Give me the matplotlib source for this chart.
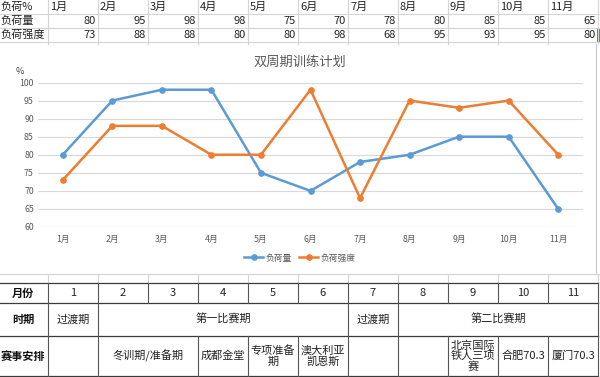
import matplotlib
matplotlib.use("Agg")
import matplotlib.pyplot as plt

plt.rcParams['font.family'] = ['Noto Sans CJK SC', 'DejaVu Sans']

months = ["1月", "2月", "3月", "4月", "5月", "6月", "7月", "8月", "9月", "10月", "11月"]
load = [80, 95, 98, 98, 75, 70, 78, 80, 85, 85, 65]
intensity = [73, 88, 88, 80, 80, 98, 68, 95, 93, 95, 80]
series_names = ["负荷量", "负荷强度"]
title = "双周期训练计划"
yticks = [60, 65, 70, 75, 80, 85, 90, 95, 100]

month_nums = ["1", "2", "3", "4", "5", "6", "7", "8", "9", "10", "11"]
row_headers = ["月份", "时期", "赛事安排"]
# (text, first column, last column) in month columns 1..11
periods = [("过渡期", 1, 1), ("第一比赛期", 2, 6), ("过渡期", 7, 7), ("第二比赛期", 8, 11)]
events = [("", 1, 1), ("冬训期/准备期", 2, 3), ("成都金堂", 4, 4), ("专项准备\n期", 5, 5),
          ("澳大利亚\n凯恩斯", 6, 6), ("", 7, 7), ("", 8, 8), ("北京国际\n铁人三项\n赛", 9, 9),
          ("合肥70.3", 10, 10), ("厦门70.3", 11, 11)]

W, H = 600, 377
fig = plt.figure(figsize=(W / 100, H / 100), dpi=100)
bg = fig.add_axes([0, 0, 1, 1])
bg.set_xlim(0, W)
bg.set_ylim(H, 0)
bg.axis('off')

grid_c = '#D4D4D4'
col_x = [0] + [48 + 50 * i for i in range(12)]  # column boundaries

def cx(c1, c2):
    return (col_x[c1] + col_x[c2 + 1]) / 2

# ---- top spreadsheet area ----
top_rows = [0, 13.5, 28, 42]
for y in top_rows[1:]:
    bg.plot([0, W], [y, y], color=grid_c, lw=0.8)
for x in col_x[1:]:
    bg.plot([x, x], [0, 44], color=grid_c, lw=0.8)
fs = 8
bg.text(0, 7, "负荷%", fontsize=fs, ha='left', va='center', color='#222')
for i, m in enumerate(months):
    bg.text(col_x[i + 1] + 2, 7, m, fontsize=fs, ha='left', va='center', color='#222')
bg.text(0, 21, series_names[0], fontsize=fs, ha='left', va='center', color='#222')
bg.text(0, 35, series_names[1], fontsize=fs, ha='left', va='center', color='#222')
for i in range(11):
    bg.text(col_x[i + 2] - 2, 21, str(load[i]), fontsize=fs, ha='right', va='center', color='#222')
    bg.text(col_x[i + 2] - 2, 35, str(intensity[i]), fontsize=fs, ha='right', va='center', color='#222')
bg.add_patch(plt.Rectangle((597, 28), 3, 14, color='#4E9A3A', lw=0))

# chart border on the right
bg.plot([596, 596], [44, 273], color='#C8C8C8', lw=0.8)

# ---- gridlines between chart and bottom table ----
for x in col_x[1:]:
    bg.plot([x, x], [274, 283], color=grid_c, lw=0.8)
bg.plot([0, W], [274, 274], color=grid_c, lw=0.8)

# ---- bottom table ----
bt = [283, 303, 336, 376]
bc = '#3a3a3a'
vc = '#555555'
for y in bt:
    bg.plot([0, 598], [y, y], color=bc, lw=0.9)
for x in col_x[1:]:
    bg.plot([x, x], [bt[0], bt[1]], color=vc, lw=0.8)
bounds = set([col_x[1], 598])
for _, a, b in periods:
    bounds.add(col_x[a]); bounds.add(col_x[b + 1])
for x in bounds:
    bg.plot([x, x], [bt[1], bt[2]], color=vc, lw=0.8)
bounds = set([col_x[1], 598])
for _, a, b in events:
    bounds.add(col_x[a]); bounds.add(col_x[b + 1])
for x in bounds:
    bg.plot([x, x], [bt[2], bt[3]], color=vc, lw=0.8)

fs2 = 8
for j, h in enumerate(row_headers):
    bg.text(23, (bt[j] + bt[j + 1]) / 2, h, fontsize=fs2, fontweight='bold',
            ha='center', va='center', color='#111')
for i, n in enumerate(month_nums):
    bg.text(cx(i + 1, i + 1), (bt[0] + bt[1]) / 2, n, fontsize=fs2,
            ha='center', va='center', color='#222')
for t, a, b in periods:
    bg.text(cx(a, b), (bt[1] + bt[2]) / 2, t, fontsize=fs2, ha='center', va='center', color='#222')
for t, a, b in events:
    bg.text(cx(a, b), (bt[2] + bt[3]) / 2, t, fontsize=fs2, ha='center', va='center',
            color='#222', linespacing=1.0)

# ---- chart ----
x0, x1 = 38, 583
ytop, ybot = 82.5, 227
ax = fig.add_axes([x0 / W, 1 - ybot / H, (x1 - x0) / W, (ybot - ytop) / H])
ax.set_facecolor('none')
xs = list(range(1, len(months) + 1))
ax.plot(xs, load, color='#5B9BD5', lw=1.8, marker='o', ms=3.8, label=series_names[0], zorder=3)
ax.plot(xs, intensity, color='#ED7D31', lw=1.8, marker='o', ms=3.8, label=series_names[1], zorder=3)
ax.set_xlim(0.5, len(months) + 0.5)
ax.set_ylim(60, 100)
ax.set_yticks(yticks)
ax.set_xticks(xs)
ax.set_xticklabels(months)
ax.grid(axis='y', color='#D9D9D9', lw=0.8)
ax.set_axisbelow(True)
for s in ax.spines.values():
    s.set_visible(False)
ax.tick_params(length=0, labelsize=6.3, colors='#595959', pad=6)
ax.tick_params(axis='y', pad=3)

bg.text(300, 62, title, fontsize=9.5, ha='center', va='center', color='#595959')
bg.text(20, 72, "%", fontsize=6.5, ha='center', va='center', color='#404040')

fig.legend(loc='center', bbox_to_anchor=(300 / W, 1 - 258 / H), ncol=2, frameon=False,
           fontsize=6.3, handlelength=2.2, columnspacing=0.8, handletextpad=0.3,
           labelcolor='#595959')

fig.savefig("out.png", dpi=100)
